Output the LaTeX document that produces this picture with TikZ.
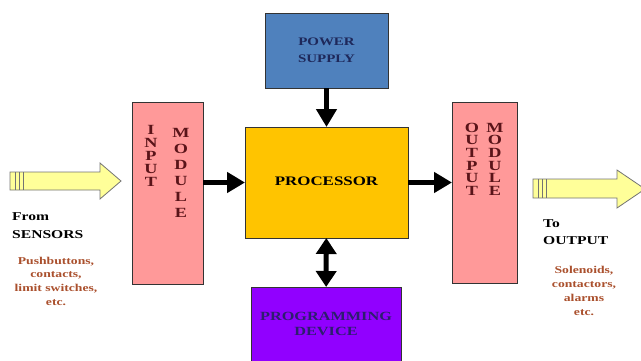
\documentclass[tikz,border=0pt]{standalone}
\usepackage{fontspec}
\setmainfont{Liberation Serif}
\usepackage{graphicx}
\usetikzlibrary{arrows.meta}
\usetikzlibrary{calc}
\definecolor{pinkmod}{RGB}{255,153,153}
\definecolor{maroon}{RGB}{90,20,25}
\definecolor{psblue}{RGB}{79,129,189}
\definecolor{psnavy}{RGB}{30,40,90}
\definecolor{procyel}{RGB}{255,196,0}
\definecolor{progpur}{RGB}{145,0,255}
\definecolor{prognavy}{RGB}{45,30,110}
\definecolor{armyel}{RGB}{255,255,153}
\definecolor{listbrown}{RGB}{170,80,45}
% wide bold lines, as in the slide
\newcommand{\widelines}[2][c]{\scalebox{1.3}[1]{\begin{tabular}{@{}#1@{}}#2\end{tabular}}}

\begin{document}
\begin{tikzpicture}[x=1pt, y={(0pt,-1pt)},
    blockbox/.style={draw=black!80, line width=0.8pt, inner sep=0pt, outer sep=0pt},
    modletters/.style={font=\bfseries\fontsize{14}{#1}\selectfont, text=maroon, inner sep=0pt},
    bigarrow/.style={-{Triangle[length=18pt,width=20pt]}, line width=5pt},
    bigtwoway/.style={{Triangle[length=16pt,width=20pt]}-{Triangle[length=16pt,width=20pt]}, line width=5pt},
    yelarrow/.style={draw=black!55, fill=armyel, line width=0.8pt}]
            \useasboundingbox (0,0) rectangle (641,360);
            \clip (0,0) rectangle (641,360);
            % boxes
            \node[blockbox, fill=psblue, minimum width=123pt, minimum height=75pt, text=psnavy, font=\bfseries\fontsize{11.5}{17}\selectfont] (pwr) at (326.5,50.5) {\widelines{POWER\\SUPPLY}};
            \node[blockbox, fill=procyel, minimum width=163pt, minimum height=111pt, font=\bfseries\fontsize{13}{15}\selectfont] (proc) at (326.5,182.5) {\widelines{PROCESSOR}};
            \node[blockbox, fill=pinkmod, minimum width=71pt, minimum height=182pt] (inmod) at (167.5,193) {};
            \node[blockbox, fill=pinkmod, minimum width=65pt, minimum height=181pt] (outmod) at (484.5,192.5) {};
            \node[blockbox, fill=progpur, minimum width=150pt, minimum height=76pt, text=prognavy, font=\bfseries\fontsize{12.5}{15}\selectfont] (prog) at (326,325) {\widelines{PROGRAMMING\\DEVICE}};
            % module letters
            \node[modletters=13] (inA) at (151,158) {\widelines{I\\N\\P\\U\\T}};
            \node[modletters=16] (inB) at (181,174.5) {\widelines{M\\O\\D\\U\\L\\E}};
            \node[modletters=11.7] (outA) at (472,161) {\widelines{O\\U\\T\\P\\U\\T}};
            \node[modletters=11.7] (outB) at (495,161) {\widelines{M\\O\\D\\U\\L\\E}};
            % connectors
            \draw[bigarrow] (pwr) -- (proc);
            \draw[bigarrow] (inmod.east |- proc.west) -- (proc.west);
            \draw[bigarrow] (proc.east) -- (outmod.west |- proc.east);
            \draw[bigtwoway] (proc) -- (prog);
            % sensor arrow
            \draw[yelarrow] (10,172) -- (100,172) -- (100,163) -- (121,181) -- (100,199) -- (100,190) -- (10,190) -- cycle;
            \draw[black!55, line width=0.8pt] (15,172) -- (15,190) (19,172) -- (19,190) (23,172) -- (23,190);
            % output arrow
            \draw[yelarrow] (533,179) -- (617,179) -- (617,170) -- (645,189) -- (617,208) -- (617,198) -- (533,198) -- cycle;
            \draw[black!55, line width=0.8pt] (538,179) -- (538,198) (542,179) -- (542,198) (546,179) -- (546,198);
            % texts
            \node[anchor=west, inner sep=0pt, font=\bfseries\fontsize{12}{18}\selectfont] (from) at (12,226) {\widelines[l]{From\\SENSORS}};
            \node[inner sep=0pt, text=listbrown, font=\bfseries\fontsize{10.5}{13.7}\selectfont] (inlist) at (56,282) {\widelines{Pushbuttons,\\contacts,\\limit switches,\\etc.}};
            \node[anchor=west, inner sep=0pt, font=\bfseries\fontsize{12}{17}\selectfont] (to) at (543,233) {\widelines[l]{To\\OUTPUT}};
            \node[inner sep=0pt, text=listbrown, font=\bfseries\fontsize{10.5}{14}\selectfont] (outlist) at (584,291.5) {\widelines{Solenoids,\\contactors,\\alarms\\etc.}};
        \end{tikzpicture}
\end{document}
